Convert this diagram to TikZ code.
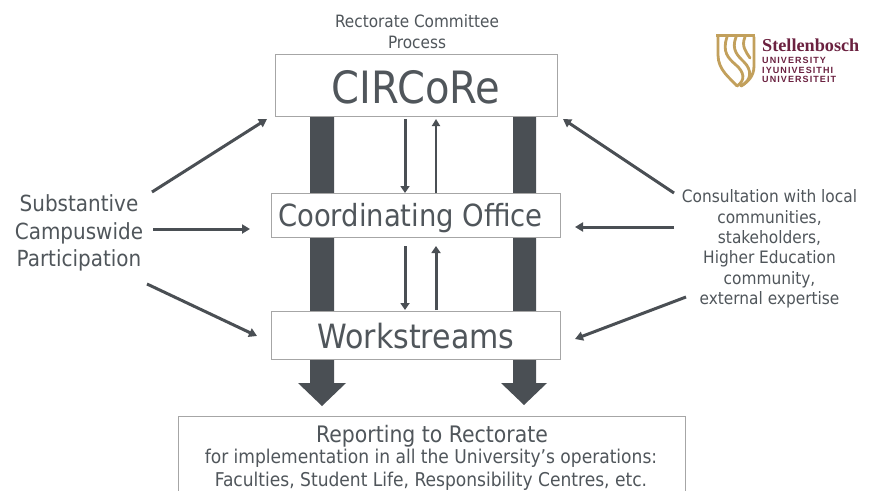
\documentclass[tikz,border=0pt]{standalone}
\usepackage{fontspec}
\setmainfont{DejaVu Sans Condensed}
\newfontfamily\logoserif{Liberation Serif}
\newfontfamily\logosans[LetterSpace=12]{Liberation Sans}
\usetikzlibrary{arrows.meta}
\definecolor{ink}{HTML}{4A4F54}
\definecolor{txt}{HTML}{50565B}
\definecolor{edge}{HTML}{A6A6A6}
\definecolor{gold}{HTML}{C2A05C}
\definecolor{maroon}{HTML}{6B2140}
\tikzset{
  x=1pt,y=-1pt,
  boxed/.style={draw=edge,line width=1pt,fill=white,inner sep=0pt,text=txt,align=center},
  label/.style={inner sep=0pt,text=txt,align=center},
  thin arrow/.style={draw=ink,line width=3pt,-{Triangle[length=7pt,width=9pt]}},
  hair arrow/.style={draw=ink,line width=2pt,-{Triangle[length=7pt,width=8pt]}},
  side arrow/.style={draw=ink,line width=3pt,-{Triangle[length=8pt,width=9pt]}},
  bigbar/.style={fill=ink,draw=none},
  logoline/.style={draw=gold,line width=2.8pt,line cap=round},
}
\begin{document}
\begin{tikzpicture}
\useasboundingbox (0,0) rectangle (872,490);
\clip (0,0) rectangle (872,490);
\fill[white] (0,0) rectangle (872,490);
% thick bars
\fill[bigbar] (310,116) -- (334,116) -- (334,383) -- (346,383) -- (322,406) -- (298,383) -- (310,383) -- cycle;
\fill[bigbar] (513,116) -- (536,116) -- (536,383) -- (547,383) -- (524,405) -- (501,383) -- (513,383) -- cycle;
% boxes
\node[boxed,minimum width=282pt,minimum height=62pt] (circ) at (416,85) {};
\node[inner sep=0pt,text=txt,font=\fontsize{44.5}{48}\selectfont] (circt) at (416,87) {CIRCoRe};
\node[boxed,minimum width=289pt,minimum height=44pt] (coord) at (415.5,215) {};
\node[inner sep=0pt,text=txt,font=\fontsize{30.5}{34}\selectfont] (coordt) at (410.5,218.5) {Coordinating Office};
\node[boxed,minimum width=289pt,minimum height=48pt] (work) at (415.5,335) {};
\node[inner sep=0pt,text=txt,font=\fontsize{33.4}{36}\selectfont] (workt) at (416,336) {Workstreams};
\node[boxed,anchor=north,minimum width=507pt,minimum height=90pt] (rep) at (431.5,416) {};
% texts
\node[label,font=\fontsize{17}{21}\selectfont] (rc) at (417,32) {Rectorate Committee\\Process};
\node[label,font=\fontsize{22.2}{27.5}\selectfont] (sub) at (79,233) {Substantive\\Campuswide\\Participation};
\node[label,font=\fontsize{17.1}{20.4}\selectfont] (cons) at (769.5,249) {Consultation with local\\communities,\\stakeholders,\\Higher Education\\community,\\external expertise};
\node[label,font=\fontsize{22.7}{24}\selectfont] (rt) at (432,436) {Reporting to Rectorate};
\node[label,font=\fontsize{19}{23.5}\selectfont] (rd) at (431,469.8) {for implementation in all the University’s operations:\\Faculties, Student Life, Responsibility Centres, etc.};
% inner arrows
\coordinate (c1) at (405,116); \coordinate (c2) at (436,116);
\coordinate (d1) at (405,193); \coordinate (d2) at (436,193);
\coordinate (e1) at (405,246); \coordinate (e2) at (436,246);
\coordinate (f1) at (405,311); \coordinate (f2) at (436,311);
\draw[thin arrow] ([yshift=-3pt]c1) -- (d1);
\draw[hair arrow] (d2) -- ([yshift=-3pt]c2);
\draw[thin arrow] (e1) -- ([yshift=1pt]f1);
\draw[thin arrow] ([yshift=1pt]f2) -- (e2);
% side arrows
\coordinate (a1) at (152,192); \coordinate (a2) at (267,119);
\coordinate (b1) at (153,229); \coordinate (b2) at (250,229);
\coordinate (g1) at (147,284); \coordinate (g2) at (257,336);
\coordinate (h1) at (674,193); \coordinate (h2) at (563,119);
\coordinate (i1) at (674,227); \coordinate (i2) at (575,227);
\coordinate (j1) at (686,297); \coordinate (j2) at (575,339);
\draw[side arrow] (a1) -- (a2);
\draw[side arrow] (b1) -- (b2);
\draw[side arrow] (g1) -- (g2);
\draw[side arrow] (h1) -- (h2);
\draw[side arrow] (i1) -- (i2);
\draw[side arrow] (j1) -- (j2);
% logo
\begin{scope}
\fill[gold] (716,34) rectangle (755,37);
\draw[logoline] (718,36) -- (718,55) .. controls (718,70) and (730,78) .. (737,86);
\draw[logoline] (727,37) .. controls (722,52) and (728,58) .. (736,65) .. controls (744,72) and (746,80) .. (737,86);
\draw[logoline] (736,37) .. controls (731,50) and (738,56) .. (744,62) .. controls (752,70) and (752,80) .. (741,86);
\draw[logoline] (745,37) .. controls (741,46) and (746,52) .. (750,58);
\draw[logoline] (754,37) -- (754,66) .. controls (754,76) and (748,82) .. (741,86);
\end{scope}
\node[inner sep=0pt,anchor=west,text=maroon,font=\logoserif\bfseries\fontsize{18.2}{20}\selectfont] (lg1) at (762,45) {Stellenbosch};
\node[inner sep=0pt,anchor=west,text=maroon,align=left,font=\logosans\bfseries\fontsize{9}{9.6}\selectfont] (lg2) at (762,70) {UNIVERSITY\\IYUNIVESITHI\\UNIVERSITEIT};
\end{tikzpicture}
\end{document}
